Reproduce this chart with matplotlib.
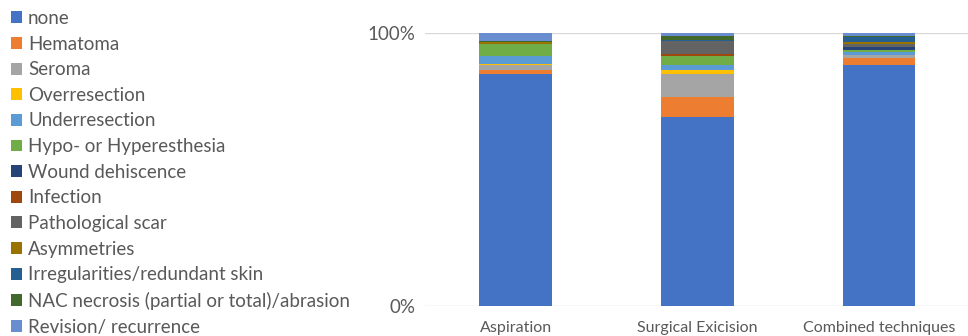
import matplotlib
matplotlib.use("Agg")
import matplotlib.pyplot as plt
import numpy as np

categories = ["Aspiration", "Surgical Exicision", "Combined techniques"]
series_names = ["none", "Hematoma", "Seroma", "Overresection", "Underresection",
                "Hypo- or Hyperesthesia", "Wound dehiscence", "Infection",
                "Pathological scar", "Asymmetries", "Irregularities/redundant skin",
                "NAC necrosis (partial or total)/abrasion", "Revision/ recurrence"]
# values in percent per category (Aspiration, Surgical, Combined)
none_v = [85.2, 69.5, 88.3]
hematoma = [1.5, 7.5, 2.45]
seroma = [1.5, 8.5, 1.2]
overres = [0.7, 1.5, 0.0]
underres = [2.7, 1.6, 1.0]
hypo = [4.6, 3.4, 0.7]
wound = [0.0, 0.25, 1.2]
infection = [0.0, 0.5, 0.0]
scar = [0.0, 4.7, 1.0]
asym = [0.6, 0.0, 0.7]
irreg = [0.0, 0.4, 1.95]
nac = [0.4, 1.5, 0.25]
revision = [2.9, 1.2, 1.2]

series = [none_v, hematoma, seroma, overres, underres, hypo, wound, infection,
          scar, asym, irreg, nac, revision]
colors = ["#4472C4", "#ED7D31", "#A5A5A5", "#FFC000", "#5B9BD5", "#70AD47",
          "#264478", "#9E480E", "#636363", "#997300", "#255E91", "#43682B", "#698ED0"]

plt.rcParams['font.family'] = ['Lato', 'DejaVu Sans']
fig = plt.figure(figsize=(9.68, 3.36), dpi=100)
ax = fig.add_axes([425/968, 1-306/336, 545/968, 273/336])

data = np.array(series, dtype=float)
data = data / data.sum(axis=0)
x = np.arange(len(categories))
bottom = np.zeros(len(categories))
handles = []
for vals, name, c in zip(data, series_names, colors):
    b = ax.bar(x, vals, 0.4, bottom=bottom, color=c, label=name, zorder=2)
    handles.append(b)
    bottom += vals

ax.set_xlim(-0.5, 2.5)
ax.set_ylim(0, 1)
ax.set_yticks([0, 1])
ax.set_yticklabels(["0%", "100%"])
ax.set_xticks(x)
ax.set_xticklabels(categories)
ax.tick_params(axis='both', length=0, colors="#595959")
ax.tick_params(axis='y', pad=7, labelsize=13.5)
ax.tick_params(axis='x', pad=11, labelsize=11.5)
for s in ax.spines.values():
    s.set_visible(False)
ax.grid(axis='y', color="#D9D9D9", linewidth=1, zorder=0)
ax.set_axisbelow(True)

leg = fig.legend(handles=handles, labels=series_names, loc='upper left',
                 bbox_to_anchor=(11/968, 1 - 10/336), frameon=False, fontsize=13.5,
                 handlelength=0.59, handleheight=0.59, handletextpad=0.32,
                 labelspacing=0.46, borderaxespad=0.0, borderpad=0.0)
for t in leg.get_texts():
    t.set_color("#595959")

fig.savefig("out.png", dpi=100)
